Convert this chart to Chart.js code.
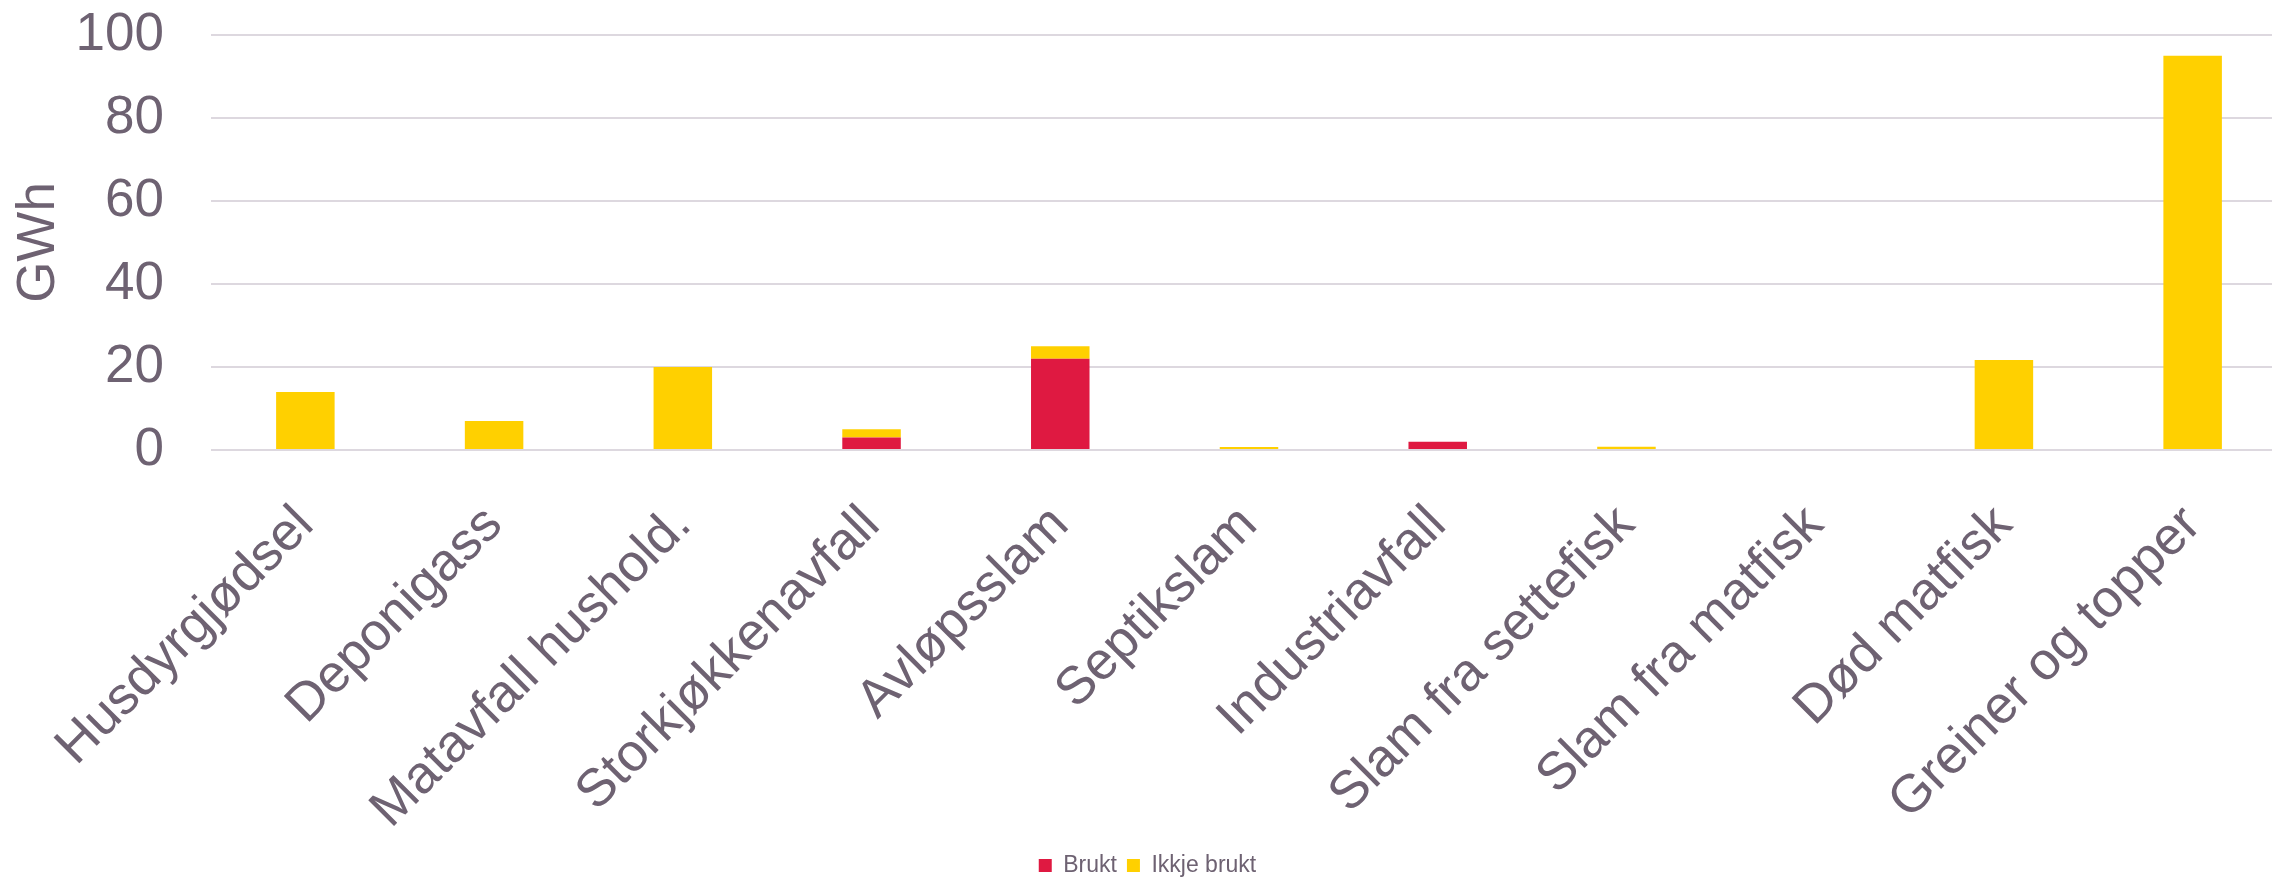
<!DOCTYPE html>
<html>
<head>
<meta charset="utf-8">
<script src="https://cdn.jsdelivr.net/npm/chart.js@4/dist/chart.umd.min.js"></script>
<style>
  html, body { margin: 0; padding: 0; background: #fff; overflow: hidden; }
  #wrap { width: 2292px; height: 879px; }
</style>
</head>
<body>
<div id="wrap"><canvas id="chart" width="2292" height="879"></canvas></div>
<script>
// Biogass potential by raw material (GWh)
const categories = [
    "Husdyrgjødsel", "Deponigass", "Matavfall hushold.", "Storkjøkkenavfall",
    "Avløpsslam", "Septikslam", "Industriavfall", "Slam fra settefisk",
    "Slam fra matfisk", "Død matfisk", "Greiner og topper"
];
const brukt = [0, 0, 0, 3, 22, 0, 2, 0, 0, 0, 0];
const ikkjeBrukt = [14, 7, 20, 2, 3, 0.7, 0, 0.8, 0, 21.7, 95];
const yTicks = [0, 20, 40, 60, 80, 100];

const textColor = "#6e6272";
const gridColor = "#ddd8df";
const fontFamily = "'Liberation Sans', Arial, sans-serif";

const ctx = document.getElementById("chart").getContext("2d");

new Chart(ctx, {
    type: "bar",
    data: {
        labels: categories,
        datasets: [
            {
                label: "Brukt",
                data: brukt,
                backgroundColor: "#df1941",
                barPercentage: 0.31,
                categoryPercentage: 1,
            },
            {
                label: "Ikkje brukt",
                data: ikkjeBrukt,
                backgroundColor: "#ffd000",
                barPercentage: 0.31,
                categoryPercentage: 1,
            },
        ],
    },
    options: {
        responsive: false,
        animation: false,
        layout: { padding: { top: 0, right: 5, left: 8, bottom: -8 } },
        plugins: {
            legend: {
                position: "bottom",
                labels: {
                    color: textColor,
                    font: { size: 23, family: fontFamily },
                    boxWidth: 13,
                    boxHeight: 13,
                    padding: 10,
                },
            },
            tooltip: { enabled: false },
        },
        scales: {
            x: {
                stacked: true,
                grid: { display: false, drawTicks: false },
                border: { display: false },
                ticks: {
                    color: textColor,
                    font: { size: 53, family: fontFamily },
                    maxRotation: 45,
                    minRotation: 45,
                    padding: 44,
                    autoSkip: false,
                },
                afterFit: (axis) => {
                    // let rotated labels run past the plot edge like the original
                    axis.paddingLeft = 0;
                    axis.paddingRight = 0;
                    axis.height = 394;
                },
            },
            y: {
                stacked: true,
                min: 0,
                max: 100,
                afterBuildTicks: (axis) => {
                    axis.ticks = yTicks.map((v) => ({ value: v }));
                },
                grid: { color: gridColor, lineWidth: 2, drawTicks: false },
                border: { display: false },
                ticks: {
                    color: textColor,
                    font: { size: 53, family: fontFamily },
                    padding: 47,
                },
                title: {
                    display: true,
                    text: "GWh",
                    color: textColor,
                    font: { size: 53, family: fontFamily },
                    padding: { top: 0, bottom: 6 },
                },
                afterFit: (axis) => {
                    axis.paddingTop = 35;
                    axis.paddingBottom = 0;
                    axis.width = 203;
                },
            },
        },
    },
});
</script>
</body>
</html>
